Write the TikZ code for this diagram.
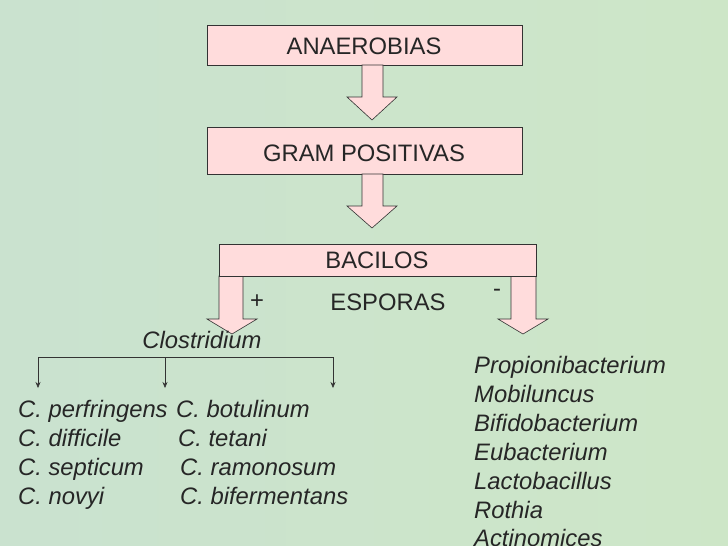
\documentclass[tikz,border=0pt]{standalone}
\usepackage{fontspec}
\setmainfont{Liberation Sans}
\usetikzlibrary{arrows.meta}
\begin{document}
\begin{tikzpicture}[x=1pt,y=-1pt,
 box/.style={draw=black!80,fill=pink!60!red!25,line width=0.6pt},
 arr/.style={draw=black!80,fill=pink!60!red!25,line width=0.6pt},
 txt/.style={font=\fontsize{23.8}{26}\selectfont,text=black!85,inner sep=0pt},
 itx/.style={font=\fontsize{23.8}{26}\selectfont\itshape,text=black!85,inner sep=0pt,anchor=base west},
 thin/.style={draw=black!80,line width=0.6pt,-{Stealth[length=6pt,width=5pt]}}]
\fill[left color=green!25!cyan!25!gray!40,right color=green!30!gray!35] (0,0) rectangle (728,546);
\fill[yellow!30!green!20,opacity=0.4] (0,0) rectangle (728,546);
\useasboundingbox (0,0) rectangle (728,546);
\draw[box] (207,25) rectangle (522,65);
\node[txt] (a) at (364,46) {ANAEROBIAS};
\draw[arr] (362,65)--(383,65)--(383,97)--(397,97)--(372,120)--(347,97)--(362,97)--cycle;
\draw[box] (207,127) rectangle (522,174);
\node[txt] (g) at (364,153) {GRAM POSITIVAS};
\draw[arr] (362,174)--(383,174)--(383,206)--(397,206)--(372,228)--(347,206)--(362,206)--cycle;
\draw[arr] (219,276)--(243,276)--(243,319)--(257,319)--(232,334)--(207,319)--(219,319)--cycle;
\draw[arr] (511,276)--(536,276)--(536,319)--(548,319)--(523,334)--(498,319)--(511,319)--cycle;
\draw[box] (219,244) rectangle (536,276);
\node[txt] (b) at (377,260) {BACILOS};
\node[txt] (plus) at (257,302) {+};
\node[txt] (esp) at (388,302) {ESPORAS};
\node[txt] (minus) at (497,293) {-};
\node[txt,font=\fontsize{23.8}{26}\selectfont\itshape] (c) at (202,340) {Clostridium};
\coordinate (l) at (38,357);
\coordinate (m) at (165,357);
\coordinate (r) at (333,357);
\coordinate (lb) at (38,388);
\coordinate (mb) at (165,388);
\coordinate (rb) at (333,388);
\draw[draw=black!80,line width=0.6pt] (l)--(r);
\draw[thin] (l)--(lb);
\draw[thin] (m)--(mb);
\draw[thin] (r)--(rb);
\node[itx] (p1) at (18,417) {C. perfringens};
\node[itx] (p2) at (18,446) {C. difficile};
\node[itx] (p3) at (18,475) {C. septicum};
\node[itx] (p4) at (18,504) {C. novyi};
\node[itx] (q1) at (176,417) {C. botulinum};
\node[itx] (q2) at (178,446) {C. tetani};
\node[itx] (q3) at (180,475) {C. ramonosum};
\node[itx] (q4) at (180,504) {C. bifermentans};
\node[itx] (r1) at (474,373) {Propionibacterium};
\node[itx] (r2) at (474,402) {Mobiluncus};
\node[itx] (r3) at (474,431) {Bifidobacterium};
\node[itx] (r4) at (474,460) {Eubacterium};
\node[itx] (r5) at (474,489) {Lactobacillus};
\node[itx] (r6) at (474,518) {Rothia};
\node[itx] (r7) at (474,546) {Actinomices};
\end{tikzpicture}
\end{document}
